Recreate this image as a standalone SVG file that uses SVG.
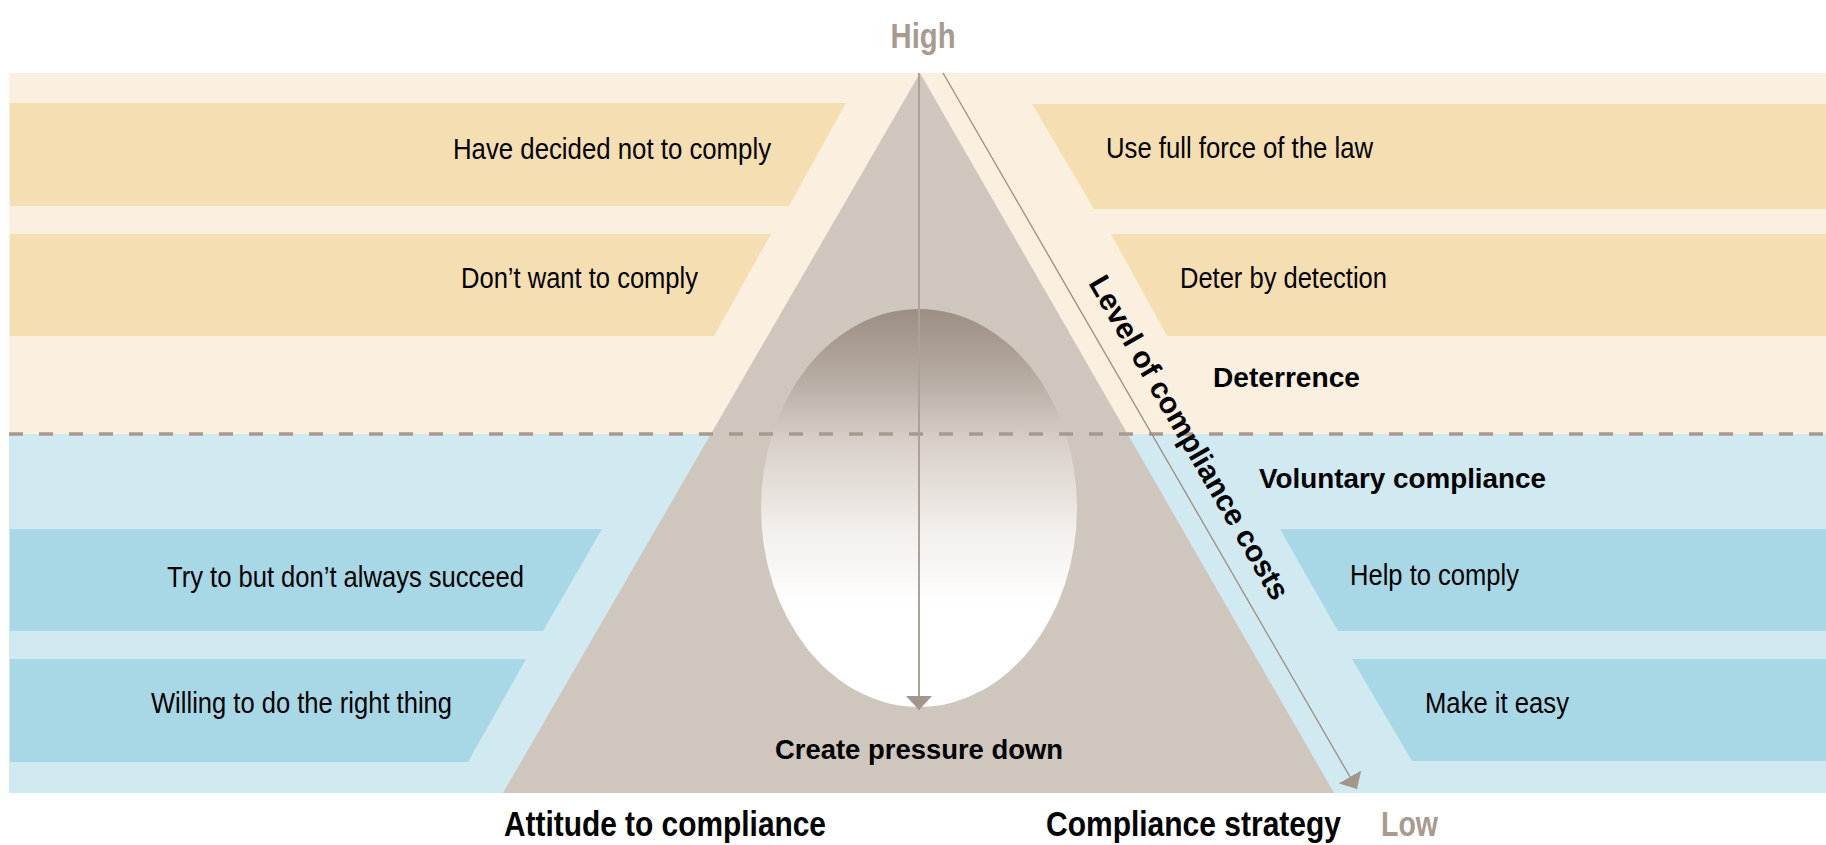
<svg xmlns="http://www.w3.org/2000/svg" width="1826" height="845" viewBox="0 0 1826 845">
  <defs>
    <linearGradient id="egg" x1="0" y1="0" x2="0" y2="1">
      <stop offset="0" stop-color="#9b8e83"/>
      <stop offset="0.18" stop-color="#b8ada3"/>
      <stop offset="0.33" stop-color="#d7cfc8"/>
      <stop offset="0.55" stop-color="#f2eeeb"/>
      <stop offset="0.75" stop-color="#ffffff"/>
      <stop offset="1" stop-color="#ffffff"/>
    </linearGradient>
    <marker id="head" viewBox="0 0 14 26" markerWidth="14" markerHeight="26" refX="14" refY="13" orient="auto" markerUnits="userSpaceOnUse">
      <path d="M0,0 L14,13 L0,26 Z" fill="#a3978c"/>
    </marker>
    <style>
      .bgW{fill:#fbefe0}
      .bgC{fill:#d1e9f0}
      .bandW{fill:#f6deb3}
      .bandC{fill:#a8d8e5}
      .t{font-family:"Liberation Sans",Arial,sans-serif;font-size:30px;fill:#000}
      .b{font-family:"Liberation Sans",Arial,sans-serif;font-size:28px;font-weight:bold;fill:#000}
      .h{font-family:"Liberation Sans",Arial,sans-serif;font-size:35px;font-weight:bold;fill:#000}
      .g{fill:#a89a8e}
    </style>
  </defs>

  <g id="background">
    <rect class="bgW" x="9" y="73" width="1817" height="361"/>
    <rect class="bgC" x="9" y="434" width="1817" height="359"/>
  </g>

  <g id="attitude-decided-not">
    <polygon class="bandW" points="10,103 846,103 789,206 10,206"/>
    <text class="t" transform="translate(453,159) scale(0.86,1)" textLength="369.8" lengthAdjust="spacingAndGlyphs">Have decided not to comply</text>
  </g>
  <g id="attitude-dont-want">
    <polygon class="bandW" points="10,234 771,234 714,336 10,336"/>
    <text class="t" transform="translate(461,288) scale(0.86,1)" textLength="275.6" lengthAdjust="spacingAndGlyphs">Don’t want to comply</text>
  </g>
  <g id="attitude-try">
    <polygon class="bandC" points="10,529 602,529 543,631 10,631"/>
    <text class="t" transform="translate(167,587) scale(0.86,1)" textLength="415.1" lengthAdjust="spacingAndGlyphs">Try to but don’t always succeed</text>
  </g>
  <g id="attitude-willing">
    <polygon class="bandC" points="10,659 526,659 468,762 10,762"/>
    <text class="t" transform="translate(151,713) scale(0.86,1)" textLength="350" lengthAdjust="spacingAndGlyphs">Willing to do the right thing</text>
  </g>

  <g id="strategy-full-force">
    <polygon class="bandW" points="1032,104 1826,104 1826,209 1094,209"/>
    <text class="t" transform="translate(1106,158) scale(0.86,1)" textLength="310.5" lengthAdjust="spacingAndGlyphs">Use full force of the law</text>
  </g>
  <g id="strategy-deter">
    <polygon class="bandW" points="1111,234 1826,234 1826,336 1167,336"/>
    <text class="t" transform="translate(1180,288) scale(0.86,1)" textLength="240.7" lengthAdjust="spacingAndGlyphs">Deter by detection</text>
  </g>
  <g id="strategy-help">
    <polygon class="bandC" points="1280,529 1826,529 1826,631 1338,631"/>
    <text class="t" transform="translate(1350,585) scale(0.86,1)" textLength="196.5" lengthAdjust="spacingAndGlyphs">Help to comply</text>
  </g>
  <g id="strategy-easy">
    <polygon class="bandC" points="1352,659 1826,659 1826,761 1412,761"/>
    <text class="t" transform="translate(1425,713) scale(0.86,1)" textLength="167.4" lengthAdjust="spacingAndGlyphs">Make it easy</text>
  </g>

  <g id="pyramid">
    <polygon points="920,73 503,793 1334,793" fill="#cfc6bd"/>
    <ellipse cx="919" cy="508" rx="158" ry="199" fill="url(#egg)"/>
    <text class="b" x="919" y="759" text-anchor="middle" textLength="288" lengthAdjust="spacingAndGlyphs">Create pressure down</text>
  </g>

  <g id="divider">
    <line x1="9" y1="434" x2="1826" y2="434" stroke="#a69a8f" stroke-width="3.5" stroke-dasharray="14 16"/>
  </g>

  <g id="zone-labels">
    <text class="b" x="1213" y="387" textLength="147" lengthAdjust="spacingAndGlyphs">Deterrence</text>
    <text class="b" x="1259" y="488" textLength="287" lengthAdjust="spacingAndGlyphs">Voluntary compliance</text>
  </g>

  <g id="connectors">
    <line x1="919" y1="73" x2="919" y2="710" stroke="#ada298" stroke-width="2" marker-end="url(#head)"/>
    <line x1="943" y1="73" x2="1357" y2="789" stroke="#9b8d82" stroke-width="1.3" marker-end="url(#head)"/>
  </g>

  <g id="axis-label">
    <text class="b" transform="translate(1088,283) rotate(59.9)" style="font-size:30px" textLength="369" lengthAdjust="spacingAndGlyphs">Level of compliance costs</text>
  </g>

  <g id="axis-titles">
    <text class="h g" transform="translate(923,48) scale(0.86,1)" text-anchor="middle" style="font-size:36px" textLength="75.6" lengthAdjust="spacingAndGlyphs">High</text>
    <text class="h" transform="translate(504,836) scale(0.86,1)" textLength="374.4" lengthAdjust="spacingAndGlyphs">Attitude to compliance</text>
    <text class="h" transform="translate(1046,836) scale(0.86,1)" textLength="343" lengthAdjust="spacingAndGlyphs">Compliance strategy</text>
    <text class="h g" transform="translate(1381,836) scale(0.86,1)" textLength="66.3" lengthAdjust="spacingAndGlyphs">Low</text>
  </g>
</svg>
